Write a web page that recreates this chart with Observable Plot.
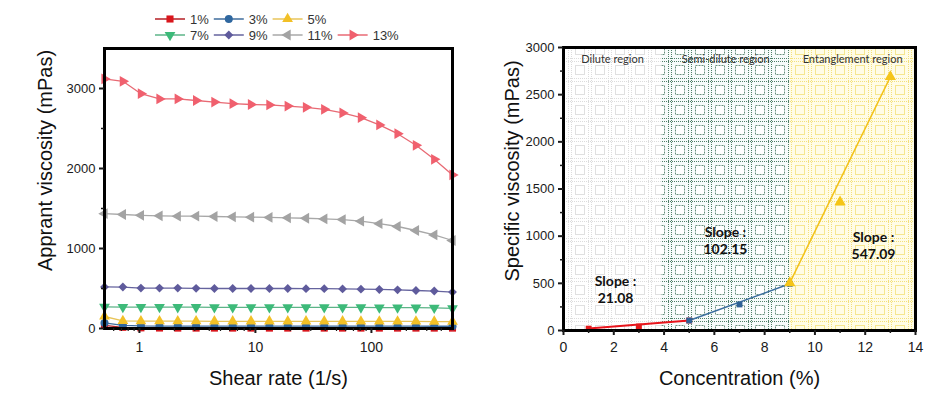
<!DOCTYPE html>
<html><head><meta charset="utf-8">
<script src="https://cdn.jsdelivr.net/npm/d3@7"></script>
<script src="https://cdn.jsdelivr.net/npm/@observablehq/plot@0.6"></script>
<style>
body{margin:0;background:#fff;font-family:"Liberation Sans",Arial,sans-serif;}
#wrap{position:relative;width:950px;height:419px;overflow:hidden;background:#fff;}
#left,#right,#legend{position:absolute;top:0;}
#left{left:0}#right{left:470px}#legend{left:0}
</style></head><body>
<svg width="0" height="0" style="position:absolute">
<defs>
<pattern id="pDilute" width="20" height="20" patternUnits="userSpaceOnUse">
<rect width="20" height="20" fill="#ffffff"/>
<path d="M0 1.5H20M0 18.5H20M1.5 0V20M18.5 0V20" stroke="#dcdcdc" stroke-width="1" stroke-dasharray="1 1"/>
<rect x="5.5" y="5.5" width="9" height="9" fill="none" stroke="#e0e0e0" stroke-width="1"/>
</pattern>
<pattern id="pSemi" width="20" height="20" patternUnits="userSpaceOnUse">
<rect width="20" height="20" fill="#f7fbfb"/>
<path d="M0 1.5H20M0 18.5H20M1.5 0V20M18.5 0V20" stroke="#4f7f67" stroke-width="1" stroke-dasharray="1 1"/>
<rect x="5.5" y="5.5" width="9" height="9" fill="#ffffff" stroke="#6a917e" stroke-width="1" stroke-dasharray="2 1"/>
</pattern>
<pattern id="pEnt" width="20" height="20" patternUnits="userSpaceOnUse">
<rect width="20" height="20" fill="#fffce6"/>
<path d="M0 1.5H20M0 18.5H20M1.5 0V20M18.5 0V20" stroke="#f3e07a" stroke-width="1" stroke-dasharray="1 1"/>
<rect x="5.5" y="5.5" width="9" height="9" fill="none" stroke="#f5e68f" stroke-width="1"/>
</pattern>
</defs>
</svg>
<div id="wrap"><div id="left"></div><div id="right"></div><svg id="legend" width="470" height="46"></svg></div>
<script>
// ---------- Data: left panel ----------
const shearRate = [0.5, 0.72, 1.03, 1.49, 2.14, 3.08, 4.43, 6.37, 9.16, 13.2, 19.0, 27.3, 39.2, 56.4, 81.2, 117, 168, 242, 348, 500];
const seriesLabels = ["1%", "3%", "5%", "7%", "9%", "11%", "13%"];
const v1  = [40, 15, 8, 6, 5, 5, 5, 5, 5, 5, 5, 5, 5, 5, 5, 5, 5, 5, 5, 5];
const v3  = [70, 40, 32, 30, 30, 30, 30, 30, 30, 30, 30, 30, 30, 30, 30, 30, 29, 29, 28, 28];
const v5  = [150, 95, 92, 92, 91, 91, 90, 90, 90, 90, 90, 90, 90, 90, 89, 89, 88, 88, 87, 86];
const v7  = [270, 268, 267, 267, 266, 266, 265, 265, 265, 265, 265, 265, 265, 264, 263, 262, 262, 260, 258, 252];
const v9  = [520, 518, 505, 505, 505, 502, 500, 500, 500, 500, 500, 498, 498, 495, 492, 488, 483, 475, 468, 455];
const v11 = [1435, 1425, 1415, 1408, 1404, 1404, 1400, 1396, 1392, 1388, 1383, 1378, 1370, 1362, 1342, 1310, 1275, 1225, 1170, 1100];
const v13 = [3120, 3090, 2935, 2870, 2870, 2850, 2830, 2810, 2800, 2795, 2780, 2765, 2740, 2695, 2635, 2545, 2435, 2290, 2115, 1920];
const leftYTicks = [0, 1000, 2000, 3000];
const leftYMinor = [500, 1500, 2500];
const leftXTicks = [1, 10, 100];
const leftXMinor = [0.6, 0.7, 0.8, 0.9, 2, 3, 4, 5, 6, 7, 8, 9, 20, 30, 40, 50, 60, 70, 80, 90, 200, 300, 400];

// ---------- Data: right panel ----------
const concDilute = [1, 3, 5];
const viscDilute = [20, 42, 106];
const concSemi = [5, 7, 9];
const viscSemi = [106, 276, 495];
const concEnt = [9, 11, 13];
const viscEnt = [505, 1362, 2689];
const regionNames = ["Dilute region", "Semi-dilute region", "Entanglement region"];
const regionBounds = [0, 3.9, 9, 14];
const slopeValues = ["21.08", "102.15", "547.09"];
const slopeX = [2.07, 6.44, 12.33];
const slopeY = [440, 954, 901];
const rightYTicks = [0, 500, 1000, 1500, 2000, 2500, 3000];
const rightYMinor = [250, 750, 1250, 1750, 2250, 2750];
const rightXTicks = [0, 2, 4, 6, 8, 10, 12, 14];
const rightXMinor = [1, 3, 5, 7, 9, 11, 13];

// ---------- Styling ----------
function rotSym(base, deg) {
  const a = deg * Math.PI / 180, c = Math.cos(a), s = Math.sin(a);
  return {draw(ctx, size) {
    const p = {
      moveTo: (x, y) => ctx.moveTo(x * c - y * s, x * s + y * c),
      lineTo: (x, y) => ctx.lineTo(x * c - y * s, x * s + y * c),
      closePath: () => ctx.closePath()
    };
    base.draw(p, size);
  }};
}
const seriesColors = ["#d9161c", "#2f679f", "#f2c027", "#3dba79", "#5f5b9c", "#a3a3a3", "#f0606e"];
const lineColors   = ["#b41f24", "#3f6d9c", "#e8c55a", "#5cb488", "#65639e", "#a8a8a8", "#e86a74"];
const seriesSymbols = [d3.symbolSquare, d3.symbolCircle, d3.symbolTriangle, rotSym(d3.symbolTriangle, 180),
  d3.symbolDiamond2, rotSym(d3.symbolTriangle, -90), rotSym(d3.symbolTriangle, 90)];
const seriesValues = [v1, v3, v5, v7, v9, v11, v13];

const font = "Liberation Sans, Arial, sans-serif";
const baseStyle = {fontFamily: font, fontSize: "13px", color: "#1a1a1a", background: "transparent", overflow: "visible"};
const fmt = d => String(d);

// ---------- Left panel ----------
const leftMarks = [];
seriesLabels.forEach((lab, i) => {
  const rows = shearRate.map((x, j) => ({x, y: seriesValues[i][j]}));
  leftMarks.push(Plot.line(rows, {x: "x", y: "y", stroke: lineColors[i], strokeWidth: 1.3}));
  leftMarks.push(Plot.dot(rows, {x: "x", y: "y", fill: seriesColors[i], stroke: "none", symbol: seriesSymbols[i], r: 4}));
});
const left = Plot.plot({
  width: 470, height: 419,
  marginLeft: 104, marginRight: 18, marginTop: 48, marginBottom: 91,
  style: baseStyle,
  x: {type: "log", domain: [0.5, 500]},
  y: {domain: [0, 3500]},
  marks: [
    ...leftMarks,
    Plot.frame({stroke: "#000", strokeWidth: 3}),
    Plot.axisY(leftYTicks, {tickSize: 5, tickPadding: 4, strokeWidth: 2, label: null, fontSize: 13, tickFormat: fmt}),
    Plot.axisY(leftYMinor, {tickSize: 3, strokeWidth: 1.5, label: null, tickFormat: () => ""}),
    Plot.axisX(leftXTicks, {tickSize: 5, tickPadding: 9, strokeWidth: 2, label: null, fontSize: 14, tickFormat: fmt}),
    Plot.axisX(leftXMinor, {tickSize: 3, strokeWidth: 1.2, label: null, tickFormat: () => ""}),
    Plot.text(["Shear rate (1/s)"], {text: d => d, frameAnchor: "bottom", textAnchor: "middle", lineAnchor: "middle", dy: 50, fontSize: 20, fill: "#111"}),
    Plot.text(["Apprant viscosity (mPas)"], {text: d => d, frameAnchor: "left", textAnchor: "middle", lineAnchor: "middle", dx: -59, dy: -28, rotate: -90, fontSize: 20, fill: "#111"})
  ]
});
document.getElementById("left").appendChild(left);

// ---------- Right panel ----------
const regionFills = ["url(#pDilute)", "url(#pSemi)", "url(#pEnt)"];
const regionRects = regionNames.map((name, i) =>
  Plot.rectY([{x1: regionBounds[i], x2: regionBounds[i + 1]}], {x1: "x1", x2: "x2", y1: 0, y2: 3000, fill: regionFills[i]}));
const regionRows = regionNames.map((name, i) => ({name, x: (regionBounds[i] + regionBounds[i + 1]) / 2}));
const slopeRows = slopeValues.map((s, i) => ({t: "Slope :\n" + s, x: slopeX[i], y: slopeY[i]}));
const segs = [
  {c: concDilute, v: viscDilute, stroke: "#e8141b", fill: "#e31a1c", sym: d3.symbolSquare, r: 3.3, w: 2},
  {c: concSemi, v: viscSemi, stroke: "#3c6e9e", fill: "#2e6196", sym: d3.symbolSquare, r: 3.3, w: 1.5},
  {c: concEnt, v: viscEnt, stroke: "#f3c21a", fill: "#f5c518", sym: d3.symbolTriangle, r: 4.2, w: 1.5}
];
const rightMarks = [];
segs.forEach(s => {
  const rows = s.c.map((x, j) => ({x, y: s.v[j]}));
  rightMarks.push(Plot.line([rows[0], rows[rows.length - 1]], {x: "x", y: "y", stroke: s.stroke, strokeWidth: s.w}));
});
segs.forEach(s => {
  const rows = s.c.map((x, j) => ({x, y: s.v[j]}));
  rightMarks.push(Plot.dot(rows, {x: "x", y: "y", fill: s.fill, stroke: "none", symbol: s.sym, r: s.r}));
});
const right = Plot.plot({
  width: 480, height: 419,
  marginLeft: 93, marginRight: 35, marginTop: 47, marginBottom: 89,
  style: baseStyle,
  x: {domain: [0, 14]},
  y: {domain: [0, 3000]},
  marks: [
    ...regionRects,
    Plot.text(regionRows, {x: "x", text: "name", frameAnchor: "top", lineAnchor: "middle", dy: 12, fontSize: 11, fontFamily: "Lato, sans-serif", fill: "#333"}),
    Plot.text(slopeRows, {x: "x", y: "y", text: "t", fontSize: 14, fontWeight: "bold", fontFamily: "Lato, sans-serif", lineHeight: 1.2, fill: "#111"}),
    ...rightMarks,
    Plot.frame({stroke: "#000", strokeWidth: 3}),
    Plot.axisY(rightYTicks, {tickSize: 5, tickPadding: 4, strokeWidth: 2, label: null, fontSize: 13, tickFormat: fmt}),
    Plot.axisY(rightYMinor, {tickSize: 3, strokeWidth: 1.5, label: null, tickFormat: () => ""}),
    Plot.axisX(rightXTicks, {tickSize: 5, tickPadding: 7, strokeWidth: 2, label: null, fontSize: 14, tickFormat: fmt}),
    Plot.axisX(rightXMinor, {tickSize: 3, strokeWidth: 1.5, label: null, tickFormat: () => ""}),
    Plot.text(["Concentration (%)"], {text: d => d, frameAnchor: "bottom", textAnchor: "middle", lineAnchor: "middle", dy: 48, fontSize: 20, fill: "#111"}),
    Plot.text(["Specific viscosity (mPas)"], {text: d => d, frameAnchor: "left", textAnchor: "middle", lineAnchor: "middle", dx: -51, dy: -18, rotate: -90, fontSize: 20, fill: "#111"})
  ]
});
document.getElementById("right").appendChild(right);

// ---------- Legend ----------
const legendRows = [[0, 1, 2], [3, 4, 5, 6]];
const lg = d3.select("#legend");
legendRows.forEach((row, ri) => {
  let x = 155;
  const y = 19 + ri * 16;
  row.forEach(i => {
    const g = lg.append("g").attr("transform", `translate(${x},${y})`);
    g.append("line").attr("x1", 0).attr("x2", 30).attr("y1", 0).attr("y2", 0)
      .attr("stroke", lineColors[i]).attr("stroke-width", 1.5);
    g.append("path").attr("transform", "translate(15,0)")
      .attr("d", d3.symbol(seriesSymbols[i], 4 * 4 * Math.PI)()).attr("fill", seriesColors[i]);
    const t = g.append("text").attr("x", 35).attr("y", 0).attr("dy", "0.35em")
      .attr("font-family", font).attr("font-size", 13).attr("fill", "#333").text(seriesLabels[i]);
    x += 40 + t.node().getComputedTextLength();
  });
});
</script>
</body></html>
